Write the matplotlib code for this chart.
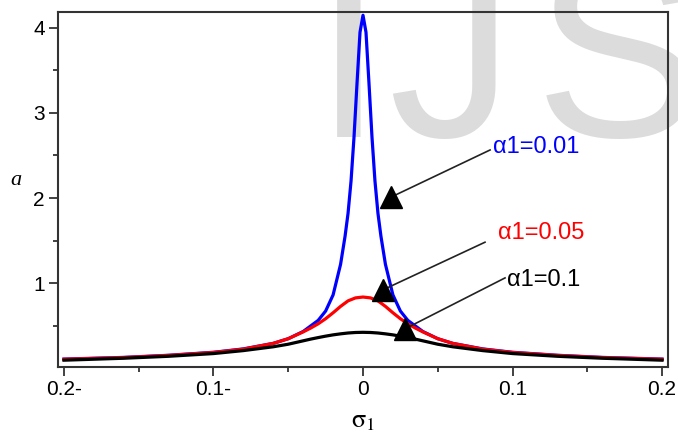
import matplotlib
matplotlib.use("Agg")
import matplotlib.pyplot as plt

plt.rcParams["mathtext.fontset"] = "stix"

# Values
sigma_blue = [-0.2, -0.16, -0.13, -0.1, -0.08, -0.06, -0.05, -0.04, -0.03, -0.025, -0.02,
              -0.015, -0.012, -0.01, -0.008, -0.006, -0.004, -0.002, 0.0,
              0.002, 0.004, 0.006, 0.008, 0.01, 0.012, 0.015, 0.02, 0.025, 0.03,
              0.04, 0.05, 0.06, 0.08, 0.1, 0.13, 0.16, 0.2]
a_blue = [0.105, 0.125, 0.15, 0.185, 0.225, 0.29, 0.345, 0.43, 0.56, 0.67, 0.86,
          1.22, 1.55, 1.82, 2.2, 2.72, 3.35, 3.95, 4.15,
          3.95, 3.35, 2.72, 2.2, 1.82, 1.55, 1.22, 0.86, 0.67, 0.56,
          0.43, 0.345, 0.29, 0.225, 0.185, 0.15, 0.125, 0.105]

sigma_wide = [-0.2, -0.16, -0.13, -0.1, -0.08, -0.06, -0.05, -0.04, -0.035, -0.03, -0.025,
              -0.02, -0.015, -0.01, -0.005, 0.0, 0.005, 0.01, 0.015, 0.02, 0.025,
              0.03, 0.035, 0.04, 0.05, 0.06, 0.08, 0.1, 0.13, 0.16, 0.2]
a_red = [0.103, 0.123, 0.148, 0.183, 0.222, 0.29, 0.345, 0.425, 0.47, 0.52, 0.58,
         0.65, 0.725, 0.79, 0.825, 0.835, 0.825, 0.79, 0.725, 0.65, 0.58,
         0.52, 0.47, 0.425, 0.345, 0.29, 0.222, 0.183, 0.148, 0.123, 0.103]
a_black = [0.092, 0.115, 0.138, 0.17, 0.205, 0.25, 0.28, 0.32, 0.34, 0.358, 0.375,
           0.39, 0.402, 0.412, 0.418, 0.42, 0.418, 0.412, 0.402, 0.39, 0.375,
           0.358, 0.34, 0.32, 0.28, 0.25, 0.205, 0.17, 0.138, 0.115, 0.092]

x_ticks = [-0.2, -0.1, 0.0, 0.1, 0.2]
x_tick_labels = ["0.2-", "0.1-", "0", "0.1", "0.2"]
x_minor = [-0.15, -0.05, 0.05, 0.15]
y_ticks = [1, 2, 3, 4]
y_minor = [0.5, 1.5, 2.5, 3.5]

labels = ["\u03b11=0.01", "\u03b11=0.05", "\u03b11=0.1"]
colors = ["#0000ff", "#ff0000", "#000000"]
label_pos = [(0.087, 2.6), (0.090, 1.59), (0.0963, 1.035)]
arrow_start = [(0.085, 2.565), (0.0816, 1.48), (0.095, 1.06)]
arrow_head = [(0.0187, 2.01), (0.0134, 0.92), (0.028, 0.46)]

tick_font = ["Liberation Sans Narrow", "Liberation Sans", "DejaVu Sans"]

fig = plt.figure(figsize=(6.78, 4.36), dpi=100)

# Watermark behind the axes
for ch, xp in zip("IJS", [314, 388, 535]):
    fig.text(xp / 678, 1 - 137 / 436, ch, fontsize=180, color="#dcdcdc",
             family="Liberation Sans", ha="left", va="baseline", zorder=-5)

ax = fig.add_axes([58 / 678, 1 - 367 / 436, 610 / 678, 355 / 436])
ax.patch.set_alpha(0)

ax.plot(sigma_blue, a_blue, color=colors[0], lw=2.3)
ax.plot(sigma_wide, a_red, color=colors[1], lw=2.3)
ax.plot(sigma_wide, a_black, color=colors[2], lw=2.3)

for lab, c, pos, st, hd in zip(labels, colors, label_pos, arrow_start, arrow_head):
    ax.plot([st[0], hd[0]], [st[1], hd[1]], color="#222222", lw=1.2)
    ax.plot(hd[0], hd[1], marker="^", ms=16, color="black", ls="none")
    ax.text(pos[0], pos[1], lab, color=c, fontsize=17, family=tick_font,
            ha="left", va="center")

ax.set_xlim(-0.204, 0.204)
ax.set_ylim(0.012, 4.188)

ax.set_xticks(x_ticks)
ax.set_xticklabels(x_tick_labels, family=tick_font, fontsize=15)
ax.set_xticks(x_minor, minor=True)
ax.set_yticks(y_ticks)
ax.set_yticklabels([str(v) for v in y_ticks], family=tick_font, fontsize=15)
ax.set_yticks(y_minor, minor=True)

ax.tick_params(which="major", length=6.5, width=1.3, color="#333333", pad=3)
ax.tick_params(which="minor", length=3.8, width=1.3, color="#333333")
for s in ax.spines.values():
    s.set_linewidth(1.5)
    s.set_color("#333333")

ax.set_xlabel(r"$\mathrm{\sigma}_1$", fontsize=19, labelpad=6)
ax.set_ylabel("a", rotation=0, fontsize=16, family="Liberation Serif", style="italic")
ax.yaxis.set_label_coords(-0.069, 0.50)

fig.savefig("out.png", dpi=100)
